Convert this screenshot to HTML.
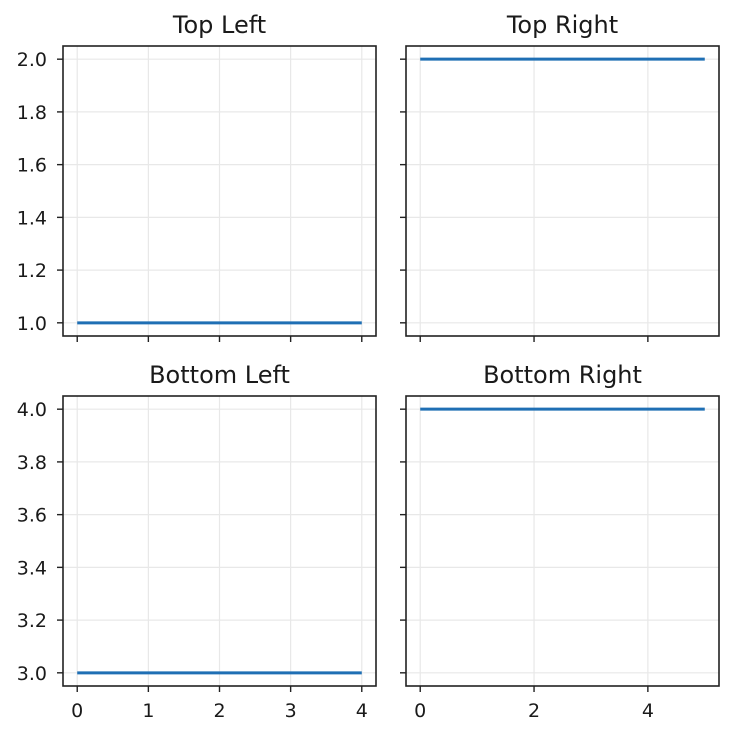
<!DOCTYPE html>
<html><head><meta charset="utf-8"><style>
body{margin:0;background:#fff;}
svg text{font-family:"DejaVu Sans","Liberation Sans",sans-serif;fill:#1a1a1a;}
</style></head><body>
<svg id="c" width="734" height="735" xmlns="http://www.w3.org/2000/svg"></svg>
<script>
const titles = ["Top Left","Top Right","Bottom Left","Bottom Right"];
const xData = [[0,1,2,3,4],[0,1,2,3,4,5],[0,1,2,3,4],[0,1,2,3,4,5]];
const yData = [[1,1,1,1,1],[2,2,2,2,2,2],[3,3,3,3,3],[4,4,4,4,4,4]];
const xTicks = [[0,1,2,3,4],[0,2,4],[0,1,2,3,4],[0,2,4]];
const yTicksTop = [1.0,1.2,1.4,1.6,1.8,2.0];
const yTicksBottom = [3.0,3.2,3.4,3.6,3.8,4.0];
const NS="http://www.w3.org/2000/svg";
const svg=document.getElementById('c');
function mk(tag,attrs,parent){const e=document.createElementNS(NS,tag);for(const k in attrs)e.setAttribute(k,attrs[k]);(parent||svg).appendChild(e);return e;}
const boxes=[{x:63,y:46},{x:406,y:46},{x:63,y:396},{x:406,y:396}];
const W=313,H=290;
const slug=["top-left","top-right","bottom-left","bottom-right"];
for(let i=0;i<4;i++){
  const b=boxes[i];
  const g=mk('g',{});
  
  
  const xs=xData[i];const xmin=Math.min(...xs),xmax=Math.max(...xs);const xp=(xmax-xmin)*0.05;
  const X=v=>b.x+(v-(xmin-xp))/((xmax-xmin)+2*xp)*W;
  const yt=i<2?yTicksTop:yTicksBottom;
  const ymin=yt[0],ymax=yt[yt.length-1],yp=(ymax-ymin)*0.05;
  const Y=v=>b.y+H-(v-(ymin-yp))/((ymax-ymin)+2*yp)*H;
  xTicks[i].forEach(t=>{
    mk('line',{x1:X(t),x2:X(t),y1:b.y,y2:b.y+H,stroke:'#e8e8e8','stroke-width':1.2},g);
    mk('line',{x1:X(t),x2:X(t),y1:b.y+H,y2:b.y+H+6,stroke:'#222','stroke-width':1.4},g);
    if(i>=2){const tx=mk('text',{x:X(t),y:b.y+H+31,'text-anchor':'middle','font-size':19},g);tx.textContent=t;
      
      }
  });
  yt.forEach(t=>{
    mk('line',{x1:b.x,x2:b.x+W,y1:Y(t),y2:Y(t),stroke:'#e8e8e8','stroke-width':1.2},g);
    mk('line',{x1:b.x-6,x2:b.x,y1:Y(t),y2:Y(t),stroke:'#222','stroke-width':1.4},g);
    if(i%2===0){const tx=mk('text',{x:b.x-16,y:Y(t)+7,'text-anchor':'end','font-size':19},g);tx.textContent=t.toFixed(1);
      
      }
  });
  const pts=xs.map((x,j)=>X(x)+','+Y(yData[i][j])).join(' ');
  const ln=mk('polyline',{points:pts,fill:'none',stroke:'#1f6fb4','stroke-width':3},g);
  
  
  mk('rect',{x:b.x,y:b.y,width:W,height:H,fill:'none',stroke:'#222','stroke-width':1.6},g);
  const tt=mk('text',{x:b.x+W/2,y:b.y-13,'text-anchor':'middle','font-size':24},g);tt.textContent=titles[i];
  
  
}
</script>
</body></html>
